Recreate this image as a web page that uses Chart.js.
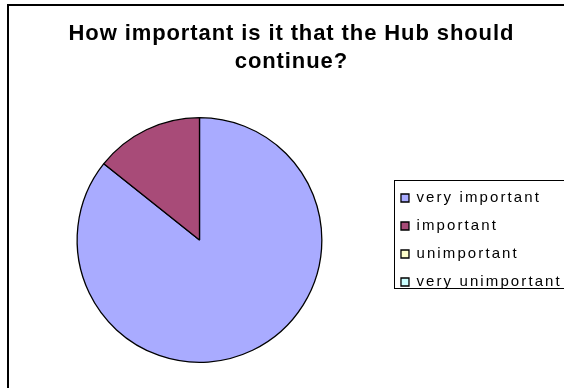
<!DOCTYPE html>
<html>
<head>
<meta charset="utf-8">
<script src="https://cdn.jsdelivr.net/npm/chart.js@4"></script>
<style>
    html, body { margin: 0; padding: 0; background: #fff; }
    #wrap { width: 564px; height: 388px; }
</style>
</head>
<body>
<div id="wrap"><canvas id="hubChart" width="564" height="388"></canvas></div>
<script>
    const titleLines = ['How important is it that the Hub should', 'continue?'];
    const answers = ['very important', 'important', 'unimportant', 'very unimportant'];
    const responses = [6, 1, 0, 0];
    const sliceColors = ['#A9ABFF', '#A84B78', '#FFFFCC', '#CCFFFF'];

    // widen the text a little, like the old spreadsheet renderer did
    function spaced(box, spacing) {
        if (!box || box._spaced) return;
        box._spaced = true;
        ['fit', 'draw'].forEach(name => {
            if (typeof box[name] !== 'function') return;
            const orig = box[name].bind(box);
            box[name] = function (...args) {
                const ctx = box.ctx;
                const prev = ctx.letterSpacing;
                ctx.letterSpacing = spacing;
                const result = orig(...args);
                ctx.letterSpacing = prev;
                return result;
            };
        });
    }

    const frames = {
        id: 'frames',
        beforeLayout(chart) {
            spaced(chart.legend, '2.1px');
            spaced(chart.titleBlock, '0.9px');
        },
        beforeDraw(chart) {
            const ctx = chart.ctx;
            ctx.save();
            ctx.fillStyle = '#fff';
            ctx.fillRect(0, 0, chart.width, chart.height);
            ctx.strokeStyle = '#000';
            ctx.lineWidth = 2;
            ctx.strokeRect(8, 5, chart.width + 20, chart.height + 20);
            ctx.restore();
        },
        afterDraw(chart) {
            // box round the legend, open past the right edge
            const hb = chart.legend && chart.legend.legendHitBoxes;
            if (!hb || !hb.length) return;
            const last = hb[hb.length - 1];
            const x = Math.round(hb[0].left - 7) + 0.5;
            const y = Math.round(hb[0].top - 11) + 0.5;
            const bottom = Math.round(last.top + last.height - 2) + 0.5;
            const ctx = chart.ctx;
            ctx.save();
            ctx.strokeStyle = '#000';
            ctx.lineWidth = 1;
            ctx.strokeRect(x, y, chart.width, bottom - y);
            ctx.restore();
        }
    };

    Chart.defaults.color = '#000';
    Chart.defaults.font.family = "'Liberation Sans', Arial, sans-serif";

    new Chart(document.getElementById('hubChart'), {
        type: 'pie',
        data: {
            labels: answers,
            datasets: [{
                data: responses,
                backgroundColor: sliceColors,
                borderColor: '#000',
                borderWidth: 1.3
            }]
        },
        options: {
            responsive: false,
            animation: false,
            layout: {
                padding: { top: 0, bottom: 25, left: 11, right: -7.8 }
            },
            plugins: {
                title: {
                    display: true,
                    text: titleLines,
                    color: '#000',
                    font: { size: 22, weight: 'bold', lineHeight: 28 / 22 },
                    padding: { top: 19.5, bottom: 41.5 }
                },
                legend: {
                    position: 'right',
                    fullSize: false,
                    labels: {
                        boxWidth: 8,
                        boxHeight: 8,
                        padding: 13,
                        color: '#000',
                        font: { size: 15 }
                    }
                },
                tooltip: { enabled: false }
            }
        },
        plugins: [frames]
    });
</script>
</body>
</html>
